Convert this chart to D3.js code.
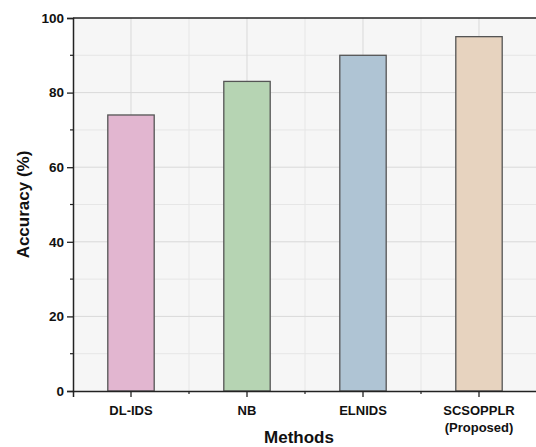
<!DOCTYPE html>
<html><head><meta charset="utf-8">
<script src="https://cdn.jsdelivr.net/npm/d3@7"></script>
<style>html,body{margin:0;padding:0;background:#fff;}svg{display:block;}</style>
</head><body>
<svg id="chart" width="536" height="447"></svg>
<script>
const categories = ["DL-IDS", "NB", "ELNIDS", "SCSOPPLR\n(Proposed)"];
const accuracy = [74, 83, 90, 95];
const colors = ["#e2b6d0", "#b6d4b3", "#afc4d4", "#e7d3bf"];
const yTicks = [0, 20, 40, 60, 80, 100];
const yMinorTicks = [10, 30, 50, 70, 90];

const svg = d3.select("#chart");
const m = {left: 73, top: 18, right: 537, bottom: 391};
const FONT = "Liberation Sans, Arial, sans-serif";

const x = d3.scaleBand().domain(categories).range([m.left, m.right]).paddingInner(0).paddingOuter(0);
const y = d3.scaleLinear().domain([0, 100]).range([m.bottom, m.top]);

svg.append("rect").attr("x", m.left).attr("y", m.top)
  .attr("width", m.right - m.left).attr("height", m.bottom - m.top).attr("fill", "#f6f6f6");

const g = svg.append("g");
g.selectAll(".hminor").data(yMinorTicks).join("line")
  .attr("x1", m.left).attr("x2", m.right).attr("y1", d => y(d)).attr("y2", d => y(d))
  .attr("stroke", "#e6e6e6").attr("stroke-width", 1);
g.selectAll(".vminor").data(categories.slice(1)).join("line")
  .attr("x1", d => x(d)).attr("x2", d => x(d)).attr("y1", m.top).attr("y2", m.bottom)
  .attr("stroke", "#e6e6e6").attr("stroke-width", 1);
g.selectAll(".hmajor").data(yTicks.slice(1, -1)).join("line")
  .attr("x1", m.left).attr("x2", m.right).attr("y1", d => y(d)).attr("y2", d => y(d))
  .attr("stroke", "#d9d9d9").attr("stroke-width", 1);
g.selectAll(".vmajor").data(categories).join("line")
  .attr("x1", d => x(d) + x.bandwidth()/2).attr("x2", d => x(d) + x.bandwidth()/2)
  .attr("y1", m.top).attr("y2", m.bottom)
  .attr("stroke", "#d9d9d9").attr("stroke-width", 1);

const bw = x.bandwidth() * 0.4;
svg.selectAll(".bar").data(categories).join("rect")
  .attr("x", d => x(d) + x.bandwidth()/2 - bw/2)
  .attr("y", (d, i) => y(accuracy[i]))
  .attr("width", bw)
  .attr("height", (d, i) => y(0) - y(accuracy[i]))
  .attr("fill", (d, i) => colors[i])
  .attr("stroke", "#555").attr("stroke-width", 1.3);

svg.append("line").attr("x1", m.left).attr("x2", m.right).attr("y1", m.top).attr("y2", m.top)
  .attr("stroke", "#222").attr("stroke-width", 1.5);

const yAxis = svg.append("g").attr("transform", `translate(${m.left},0)`)
  .call(d3.axisLeft(y).tickValues(yTicks).tickSize(6).tickPadding(3));
yAxis.select(".domain").attr("stroke", "#222").attr("stroke-width", 1.5);
yAxis.selectAll(".tick line").attr("stroke", "#222").attr("stroke-width", 1.3);
yAxis.selectAll("text").attr("font-family", FONT)
  .attr("font-size", 13.5).attr("font-weight", "bold").attr("fill", "#111");
svg.append("g").selectAll("line").data(yMinorTicks).join("line")
  .attr("x1", m.left - 3).attr("x2", m.left).attr("y1", d => y(d)).attr("y2", d => y(d))
  .attr("stroke", "#222").attr("stroke-width", 1.2);

const xAxis = svg.append("g").attr("transform", `translate(0,${m.bottom})`)
  .call(d3.axisBottom(x).tickSize(6).tickFormat(""));
xAxis.select(".domain").attr("stroke", "#222").attr("stroke-width", 1.5);
xAxis.selectAll(".tick line").attr("stroke", "#222").attr("stroke-width", 1.3);
svg.append("g").selectAll("line").data(categories.slice(1)).join("line")
  .attr("x1", d => x(d)).attr("x2", d => x(d)).attr("y1", m.bottom).attr("y2", m.bottom + 3)
  .attr("stroke", "#222").attr("stroke-width", 1.2);
categories.forEach(c => {
  const lines = c.split("\n");
  const t = svg.append("text").attr("x", x(c) + x.bandwidth()/2).attr("y", 415)
    .attr("text-anchor", "middle").attr("font-family", FONT)
    .attr("font-size", 13).attr("font-weight", "bold").attr("fill", "#111");
  lines.forEach((l, i) => t.append("tspan").attr("x", x(c) + x.bandwidth()/2).attr("dy", i ? 17 : 0).text(l));
});

svg.append("text").attr("x", 299).attr("y", 443).attr("text-anchor", "middle")
  .attr("font-family", FONT).attr("font-size", 17)
  .attr("font-weight", "bold").attr("fill", "#111").text("Methods");
svg.append("text").attr("transform", `translate(29,${(m.top + m.bottom)/2}) rotate(-90)`)
  .attr("text-anchor", "middle")
  .attr("font-family", FONT).attr("font-size", 17)
  .attr("font-weight", "bold").attr("fill", "#111").text("Accuracy (%)");
</script>
</body></html>
